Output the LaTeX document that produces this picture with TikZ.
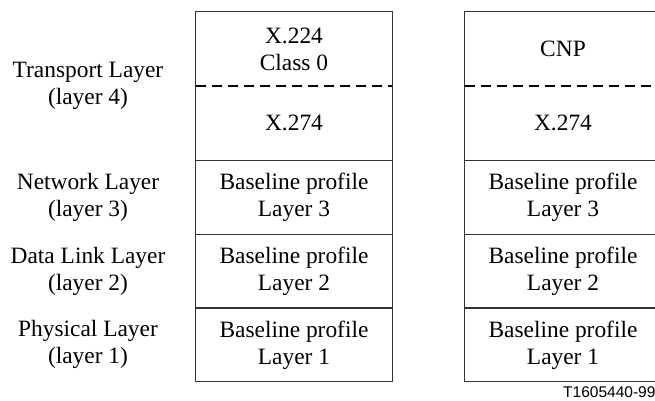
\documentclass[tikz,border=0pt]{standalone}
\usepackage{fontspec}
\setmainfont{Liberation Serif}
\newfontfamily\tagfont{Liberation Sans}
\usetikzlibrary{positioning}
\colorlet{Ink}{black!80}
\tikzset{
  cell/.style={minimum width=196pt,minimum height=73.3pt,inner sep=0pt,align=center,font=\fontsize{23.4}{27}\selectfont},
  halfcell/.style={cell,minimum height=74pt},
  layerlabel/.style={inner sep=0pt,align=center,font=\fontsize{23.4}{27}\selectfont},
  frame/.style={line width=1.3pt,draw=Ink},
  split/.style={line width=1.7pt,draw=black,dash pattern=on 10pt off 6pt}
}
\begin{document}
\begin{tikzpicture}[x=1pt,y=-1pt]
\useasboundingbox (0,0) rectangle (655,401);
% left stack
\node[halfcell] (x224) at (294,49) {X.224\\Class 0};
\node[halfcell,below=0pt of x224] (x274a) {X.274};
\node[cell,below=0pt of x274a] (netA) {Baseline profile\\Layer 3};
\node[cell,below=0pt of netA] (dlA) {Baseline profile\\Layer 2};
\node[cell,below=0pt of dlA] (phyA) {Baseline profile\\Layer 1};
% right stack
\node[halfcell] (cnp) at (563,49) {CNP};
\node[halfcell,below=0pt of cnp] (x274b) {X.274};
\node[cell,below=0pt of x274b] (netB) {Baseline profile\\Layer 3};
\node[cell,below=0pt of netB] (dlB) {Baseline profile\\Layer 2};
\node[cell,below=0pt of dlB] (phyB) {Baseline profile\\Layer 1};
% layer names
\node[layerlabel] (transport) at (88,86) {Transport Layer\\(layer 4)};
\node[layerlabel] (network) at (transport |- netA) {Network Layer\\(layer 3)};
\node[layerlabel] (datalink) at (transport |- dlA) {Data Link Layer\\(layer 2)};
\node[layerlabel] (physical) at (transport |- phyA) {Physical Layer\\(layer 1)};
% frames and dividers
\draw[frame] (x224.north west) rectangle (phyA.south east);
\draw[frame] (cnp.north west) rectangle (phyB.south east);
\draw[split] (x224.south west) -- (x224.south east);
\draw[split] (cnp.south west) -- (cnp.south east);
\foreach \n in {x274a,netA,dlA,x274b,netB,dlB}
  \draw[frame] (\n.south west) -- (\n.south east);
\node[anchor=base west,inner sep=0pt,font=\tagfont\fontsize{15.5}{18}\selectfont] (tag) at (563,397.5) {T1605440-99};
\end{tikzpicture}
\end{document}
